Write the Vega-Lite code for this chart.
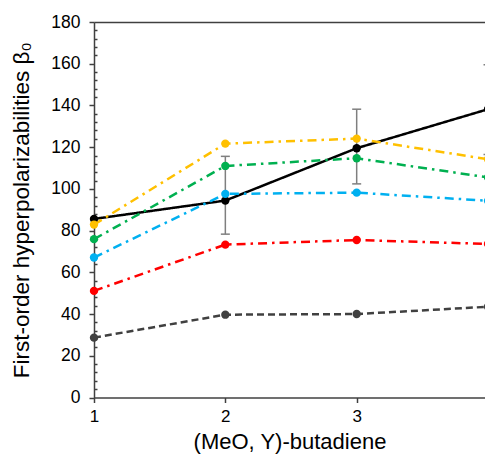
{
  "$schema": "https://vega.github.io/schema/vega-lite/v6.json",
  "width": 391,
  "height": 375.5,
  "autosize": {"type": "none"},
  "padding": {"left": 94, "top": 22, "right": 0, "bottom": 59.5},
  "config": {
    "view": {"stroke": null},
    "font": "Liberation Sans"
  },
  "data": {
    "values": [
      {"series": "black", "x": 1, "y": 85.6},
      {"series": "black", "x": 2, "y": 94.4, "low": 78.3, "high": 115.6},
      {"series": "black", "x": 3, "y": 119.5, "low": 102.4, "high": 138.2},
      {"series": "black", "x": 4, "y": 138.2, "low": 116.5, "high": 159.5},
      {"series": "gold", "x": 1, "y": 82.9},
      {"series": "gold", "x": 2, "y": 121.7},
      {"series": "gold", "x": 3, "y": 124.1},
      {"series": "gold", "x": 4, "y": 114.2},
      {"series": "green", "x": 1, "y": 75.9},
      {"series": "green", "x": 2, "y": 111.0},
      {"series": "green", "x": 3, "y": 114.7},
      {"series": "green", "x": 4, "y": 105.5},
      {"series": "sky", "x": 1, "y": 67.1},
      {"series": "sky", "x": 2, "y": 97.6},
      {"series": "sky", "x": 3, "y": 98.2},
      {"series": "sky", "x": 4, "y": 94.3},
      {"series": "red", "x": 1, "y": 51.1},
      {"series": "red", "x": 2, "y": 73.3},
      {"series": "red", "x": 3, "y": 75.5},
      {"series": "red", "x": 4, "y": 73.6},
      {"series": "grey", "x": 1, "y": 28.7},
      {"series": "grey", "x": 2, "y": 39.7},
      {"series": "grey", "x": 3, "y": 40.0},
      {"series": "grey", "x": 4, "y": 43.5}
    ]
  },
  "encoding": {
    "x": {
      "field": "x",
      "type": "quantitative",
      "scale": {"domain": [1, 3.977], "nice": false, "zero": false},
      "axis": {
        "title": "(MeO, Y)-butadiene",
        "values": [1, 2, 3, 4],
        "format": "d",
        "grid": false,
        "domainColor": "#404040",
        "domainWidth": 1.5,
        "tickColor": "#404040",
        "tickWidth": 1.5,
        "tickSize": 5,
        "labelFontSize": 17,
        "labelColor": "#000000",
        "labelPadding": 6,
        "labelFlush": false,
        "labelOverlap": false,
        "titleFontSize": 22,
        "titleFontWeight": "normal",
        "titleColor": "#000000",
        "titlePadding": 7
      }
    },
    "y": {
      "field": "y",
      "type": "quantitative",
      "scale": {"domain": [0, 180], "nice": false},
      "axis": {
        "title": "First-order hyperpolarizabilities β₀",
        "values": [0, 4, 8, 12, 16, 20, 24, 28, 32, 36, 40, 44, 48, 52, 56, 60, 64, 68, 72, 76, 80, 84, 88, 92, 96, 100, 104, 108, 112, 116, 120, 124, 128, 132, 136, 140, 144, 148, 152, 156, 160, 164, 168, 172, 176, 180],
        "labelExpr": "datum.value % 20 === 0 ? datum.label : ''",
        "tickSize": {"condition": {"test": "datum.value % 20 === 0", "value": 5}, "value": -3},
        "grid": true,
        "gridColor": "#404040",
        "gridWidth": 1.5,
        "gridOpacity": {"condition": {"test": "datum.value === 180", "value": 1}, "value": 0},
        "domainColor": "#404040",
        "domainWidth": 1.5,
        "tickColor": "#404040",
        "tickWidth": 1.5,
        "labelFontSize": 17.5,
        "labelColor": "#000000",
        "labelPadding": 9,
        "labelFlush": false,
        "labelOverlap": false,
        "titleFontSize": 22.5,
        "titleFontWeight": "normal",
        "titleColor": "#000000",
        "titlePadding": 17
      }
    }
  },
  "layer": [
    {
      "mark": {"type": "line", "strokeWidth": 2.5, "strokeCap": "butt"},
      "encoding": {
        "color": {
          "field": "series",
          "type": "nominal",
          "scale": {
            "domain": ["black", "gold", "green", "sky", "red", "grey"],
            "range": ["#000000", "#FFC000", "#00B050", "#00B0F0", "#FF0000", "#404040"]
          },
          "legend": null
        },
        "strokeDash": {
          "field": "series",
          "type": "nominal",
          "scale": {
            "domain": ["black", "gold", "green", "sky", "red", "grey"],
            "range": [[1, 0], [9, 5, 2.5, 5], [9, 5, 2.5, 5], [9, 5, 2.5, 5], [9, 5, 2.5, 5], [7, 4]]
          },
          "legend": null
        }
      }
    },
    {
      "transform": [{"filter": "isValid(datum.low)"}],
      "mark": {"type": "rule", "color": "#7F7F7F", "strokeWidth": 1.5},
      "encoding": {
        "y": {"field": "low", "type": "quantitative"},
        "y2": {"field": "high"}
      }
    },
    {
      "transform": [{"filter": "isValid(datum.low)"}],
      "mark": {"type": "tick", "orient": "horizontal", "color": "#7F7F7F", "size": 9, "thickness": 1.5, "opacity": 1},
      "encoding": {
        "y": {"field": "low", "type": "quantitative"}
      }
    },
    {
      "transform": [{"filter": "isValid(datum.high)"}],
      "mark": {"type": "tick", "orient": "horizontal", "color": "#7F7F7F", "size": 9, "thickness": 1.5, "opacity": 1},
      "encoding": {
        "y": {"field": "high", "type": "quantitative"}
      }
    },
    {
      "mark": {"type": "point", "filled": true, "size": 70, "opacity": 1},
      "encoding": {
        "color": {"field": "series", "type": "nominal", "legend": null}
      }
    }
  ]
}
